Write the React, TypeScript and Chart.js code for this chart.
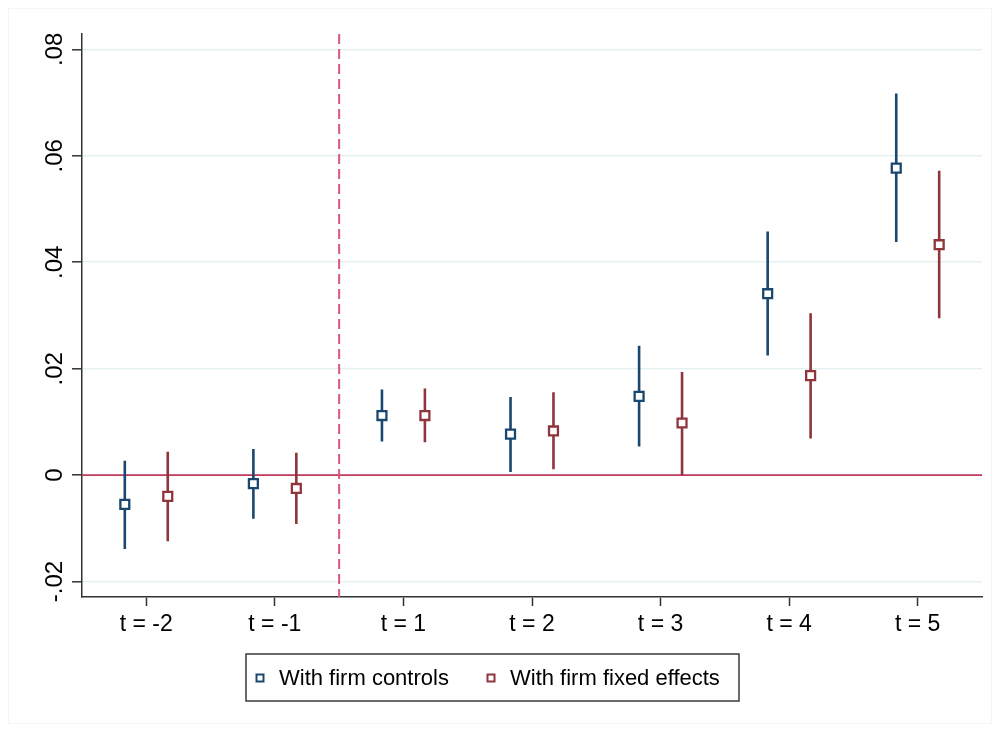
import React, { useEffect, useRef } from "react";
import { Chart, registerables } from "chart.js";

Chart.register(...registerables);

// ---- Data ----
const categories = ["t = -2", "t = -1", "t = 1", "t = 2", "t = 3", "t = 4", "t = 5"];

const controlsCoef = [-0.0055, -0.0016, 0.0112, 0.0077, 0.0148, 0.0341, 0.0577];
const controlsLo = [-0.0139, -0.0082, 0.0063, 0.0006, 0.0054, 0.0225, 0.0438];
const controlsHi = [0.0027, 0.0049, 0.0161, 0.0147, 0.0243, 0.0458, 0.0717];

const fixedCoef = [-0.004, -0.0025, 0.0112, 0.0083, 0.0098, 0.0187, 0.0433];
const fixedLo = [-0.0124, -0.0092, 0.0062, 0.0011, 0.0, 0.0069, 0.0295];
const fixedHi = [0.0044, 0.0042, 0.0163, 0.0156, 0.0194, 0.0304, 0.0572];

const yTickValues = [-0.02, 0, 0.02, 0.04, 0.06, 0.08];
const yTickLabels = ["-.02", "0", ".02", ".04", ".06", ".08"];

const seriesNames = ["With firm controls", "With firm fixed effects"];
const eventLineAt = 1.5; // between t = -1 and t = 1

// ---- Styles ----
const BLUE = "#1a476f";
const RED = "#90353b";
const ZERO_LINE = "#c43a5c";
const EVENT_LINE = "#d9597d";
const GRID = "#e6eff1";
const AXIS = "#333333";
const FONT = "'Liberation Sans', Arial, Helvetica, sans-serif";
const OFFSET = 0.167;

function ciData(lo: number[], hi: number[], off: number) {
  const out: { x: number; y: number | null }[] = [];
  lo.forEach((l, i) => {
    out.push({ x: i + off, y: l });
    out.push({ x: i + off, y: hi[i] });
    out.push({ x: i + off, y: null });
  });
  return out;
}

function pointData(vals: number[], off: number) {
  return vals.map((v, i) => ({ x: i + off, y: v }));
}

const refLinesPlugin = {
  id: "refLines",
  beforeDatasetsDraw(chart: any) {
    const { ctx, chartArea, scales } = chart;
    const y0 = scales.y.getPixelForValue(0);
    const xe = scales.x.getPixelForValue(eventLineAt);
    ctx.save();
    ctx.strokeStyle = ZERO_LINE;
    ctx.lineWidth = 1.6;
    ctx.beginPath();
    ctx.moveTo(chartArea.left, y0);
    ctx.lineTo(chartArea.right, y0);
    ctx.stroke();
    ctx.strokeStyle = EVENT_LINE;
    ctx.lineWidth = 2;
    ctx.setLineDash([10, 5]);
    ctx.beginPath();
    ctx.moveTo(xe, chartArea.top);
    ctx.lineTo(xe, chartArea.bottom);
    ctx.stroke();
    ctx.restore();
  },
  afterDraw(chart: any) {
    const { ctx, scales } = chart;
    ctx.save();
    // y tick labels, rotated
    ctx.fillStyle = "#000";
    ctx.font = `24px ${FONT}`;
    ctx.textAlign = "center";
    ctx.textBaseline = "alphabetic";
    yTickValues.forEach((v, i) => {
      const y = scales.y.getPixelForValue(v);
      ctx.save();
      ctx.translate(62, y);
      ctx.rotate(-Math.PI / 2);
      ctx.fillText(yTickLabels[i], 0, 0);
      ctx.restore();
    });
    // outer faint frame
    ctx.strokeStyle = "#f5f5f5";
    ctx.lineWidth = 1;
    ctx.strokeRect(8.5, 8.5, 983, 715);
    // legend
    const bx = 246, by = 654, bw = 493, bh = 47;
    ctx.fillStyle = "#fff";
    ctx.fillRect(bx, by, bw, bh);
    ctx.strokeStyle = "#3a3a3a";
    ctx.lineWidth = 1.5;
    ctx.strokeRect(bx, by, bw, bh);
    const items = [
      { color: BLUE, mx: 260, tx: 279 },
      { color: RED, mx: 491, tx: 510 },
    ];
    items.forEach((it, i) => {
      ctx.fillStyle = "#fff";
      ctx.strokeStyle = it.color;
      ctx.lineWidth = 2;
      ctx.fillRect(it.mx - 3.5, 674.5, 7, 7);
      ctx.strokeRect(it.mx - 3.5, 674.5, 7, 7);
      ctx.fillStyle = "#000";
      ctx.font = `22px ${FONT}`;
      ctx.textAlign = "left";
      ctx.textBaseline = "alphabetic";
      ctx.fillText(seriesNames[i], it.tx, 685);
    });
    ctx.restore();
  },
};

export default function App() {
  const canvasRef = useRef<HTMLCanvasElement | null>(null);

  useEffect(() => {
    document.body.style.margin = "0";
    const canvas = canvasRef.current;
    if (!canvas) return;
    const chart = new Chart(canvas, {
      type: "scatter",
      data: {
        datasets: [
          {
            label: seriesNames[0] + " CI",
            type: "line",
            data: ciData(controlsLo, controlsHi, -OFFSET),
            borderColor: BLUE,
            borderWidth: 2.6,
            pointRadius: 0,
            spanGaps: false,
            showLine: true,
            order: 2,
          },
          {
            label: seriesNames[1] + " CI",
            type: "line",
            data: ciData(fixedLo, fixedHi, OFFSET),
            borderColor: RED,
            borderWidth: 2.6,
            pointRadius: 0,
            spanGaps: false,
            showLine: true,
            order: 2,
          },
          {
            label: seriesNames[0],
            data: pointData(controlsCoef, -OFFSET),
            pointStyle: "rect",
            pointRadius: 6.3,
            pointBorderWidth: 2.3,
            borderColor: BLUE,
            backgroundColor: "#ffffff",
            order: 1,
          },
          {
            label: seriesNames[1],
            data: pointData(fixedCoef, OFFSET),
            pointStyle: "rect",
            pointRadius: 6.3,
            pointBorderWidth: 2.3,
            borderColor: RED,
            backgroundColor: "#ffffff",
            order: 1,
          },
        ],
      },
      options: {
        animation: false,
        responsive: false,
        devicePixelRatio: 1,
        layout: { padding: { left: 0, right: 18, top: 34, bottom: 0 } },
        plugins: {
          legend: { display: false },
          tooltip: { enabled: false },
        },
        scales: {
          x: {
            type: "linear",
            min: -0.5,
            max: 6.5,
            afterBuildTicks: (scale: any) => {
              scale.ticks = categories.map((_, i) => ({ value: i }));
            },
            afterFit: (scale: any) => {
              scale.height = 135;
            },
            ticks: {
              autoSkip: false,
              maxRotation: 0,
              minRotation: 0,
              padding: 5,
              color: "#000",
              font: { family: FONT, size: 23 },
              callback: (v: any) => categories[Number(v)] ?? "",
            },
            grid: {
              display: true,
              drawOnChartArea: false,
              drawTicks: true,
              tickLength: 9,
              tickColor: AXIS,
              tickWidth: 1.5,
            },
            border: { display: true, color: AXIS, width: 1.5 },
          },
          y: {
            type: "linear",
            min: -0.0229,
            max: 0.0829,
            afterBuildTicks: (scale: any) => {
              scale.ticks = yTickValues.map((v) => ({ value: v }));
            },
            afterFit: (scale: any) => {
              scale.width = 82;
            },
            ticks: { display: false },
            grid: {
              display: true,
              drawOnChartArea: true,
              drawTicks: true,
              tickLength: 10,
              color: GRID,
              lineWidth: 1.6,
              tickColor: AXIS,
              tickWidth: 1.5,
            },
            border: { display: true, color: AXIS, width: 1.5 },
          },
        },
      },
      plugins: [refLinesPlugin],
    });
    return () => chart.destroy();
  }, []);

  return (
    <div style={{ width: 1000, height: 732, background: "#fff" }}>
      <canvas ref={canvasRef} width={1000} height={732} style={{ display: "block" }} />
    </div>
  );
}
